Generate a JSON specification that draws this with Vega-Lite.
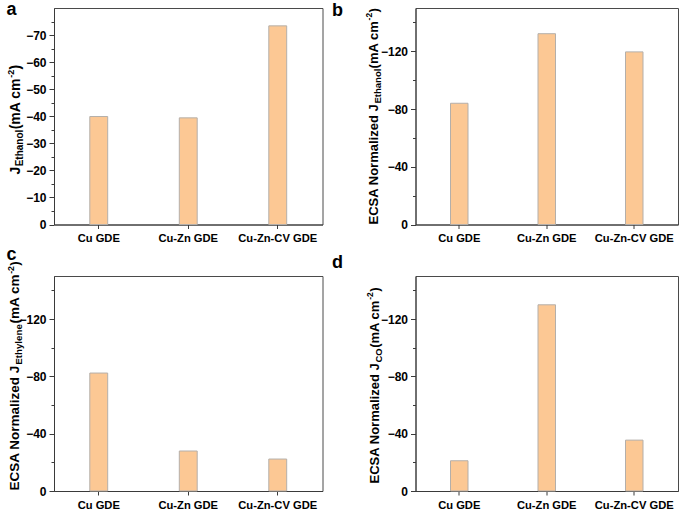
{
  "$schema": "https://vega.github.io/schema/vega-lite/v6.json",
  "background": "white",
  "padding": {"left": 5, "top": 0, "right": 0, "bottom": 0},
  "columns": 2,
  "bounds": "flush",
  "spacing": {"row": 51, "column": 92.5},
  "config": {
    "view": {"stroke": "#4a4a4a", "strokeWidth": 1},
    "axis": {
      "labelFont": "Liberation Sans", "labelFontWeight": "bold", "labelColor": "#000",
      "titleFont": "Liberation Sans", "titleFontWeight": "bold", "titleColor": "#000",
      "grid": false, "domainColor": "#3a3a3a", "tickColor": "#3a3a3a", "domainWidth": 1, "tickWidth": 1
    },
    "bar": {"fill": "#FCC894", "stroke": "#B4AFAA", "strokeWidth": 1}
  },
  "concat": [
    {
      "width": 268.5, "height": 216.5,
      "data": {"values": [
        {"sample": "Cu GDE", "j": -39.9},
        {"sample": "Cu-Zn GDE", "j": -39.4},
        {"sample": "Cu-Zn-CV GDE", "j": -73.4}
      ]},
      "resolve": {"axis": {"y": "independent", "x": "independent"}},
      "layer": [
        {"mark": {"type": "bar"},
         "encoding": {
           "x": {"field": "sample", "type": "nominal", "sort": null, "scale": {"paddingInner": 0.8, "paddingOuter": 0.4},
                 "axis": {"orient": "bottom", "title": null, "labelAngle": 0, "labelFontSize": 11.2, "tickSize": 4, "labelPadding": 4}},
           "y": {"field": "j", "type": "quantitative", "scale": {"domain": [0, -80], "nice": false},
                 "axis": {"orient": "left", "values": [0, -5, -10, -15, -20, -25, -30, -35, -40, -45, -50, -55, -60, -65, -70, -75],
                          "labelExpr": "datum.value % 10 === 0 ? datum.label : ''",
                          "tickSize": {"condition": {"test": "datum.value % 10 === 0", "value": 5}, "value": 3},
                          "labelFontSize": 12, "labelPadding": 3,
                          "title": "J", "titleFontSize": 14, "titleX": -34.5, "titleY": 166, "titleAngle": 270, "titleAlign": "left", "titleBaseline": "alphabetic"}}
         }},
        {"mark": {"type": "bar", "opacity": 0}, "encoding": {
          "x": {"field": "sample", "type": "nominal", "sort": null, "scale": {"paddingInner": 0.8, "paddingOuter": 0.4}, "axis": null},
          "y": {"field": "j", "type": "quantitative", "scale": {"domain": [0, -80], "nice": false},
          "axis": {"orient": "left", "domain": false, "ticks": false, "labels": false, "title": "Ethanol", "titleFontSize": 10, "titleX": -31.5, "titleY": 157.8, "titleAngle": 270, "titleAlign": "left", "titleBaseline": "alphabetic"}}}},
        {"mark": {"type": "bar", "opacity": 0}, "encoding": {
          "x": {"field": "sample", "type": "nominal", "sort": null, "scale": {"paddingInner": 0.8, "paddingOuter": 0.4}, "axis": null},
          "y": {"field": "j", "type": "quantitative", "scale": {"domain": [0, -80], "nice": false},
          "axis": {"orient": "left", "domain": false, "ticks": false, "labels": false, "title": "(mA cm", "titleFontSize": 14, "titleX": -34.5, "titleY": 120.8, "titleAngle": 270, "titleAlign": "left", "titleBaseline": "alphabetic"}}}},
        {"mark": {"type": "bar", "opacity": 0}, "encoding": {
          "x": {"field": "sample", "type": "nominal", "sort": null, "scale": {"paddingInner": 0.8, "paddingOuter": 0.4}, "axis": null},
          "y": {"field": "j", "type": "quantitative", "scale": {"domain": [0, -80], "nice": false},
          "axis": {"orient": "left", "domain": false, "ticks": false, "labels": false, "title": "-2", "titleFontSize": 9, "titleX": -40.5, "titleY": 69.2, "titleAngle": 270, "titleAlign": "left", "titleBaseline": "alphabetic"}}}},
        {"mark": {"type": "bar", "opacity": 0}, "encoding": {
          "x": {"field": "sample", "type": "nominal", "sort": null, "scale": {"paddingInner": 0.8, "paddingOuter": 0.4}, "axis": null},
          "y": {"field": "j", "type": "quantitative", "scale": {"domain": [0, -80], "nice": false},
          "axis": {"orient": "left", "domain": false, "ticks": false, "labels": false, "title": ")", "titleFontSize": 14, "titleX": -34.5, "titleY": 61, "titleAngle": 270, "titleAlign": "left", "titleBaseline": "alphabetic"}}}},
        {"mark": {"type": "bar", "opacity": 0}, "encoding": {
          "x": {"field": "sample", "type": "nominal", "sort": null, "scale": {"paddingInner": 0.8, "paddingOuter": 0.4}, "axis": null},
          "y": {"field": "j", "type": "quantitative", "scale": {"domain": [0, -80], "nice": false},
          "axis": {"orient": "left", "domain": false, "ticks": false, "labels": false, "title": "a", "titleFontSize": 18, "titleX": -48, "titleY": 6.5, "titleAngle": 0, "titleAlign": "left", "titleBaseline": "alphabetic"}}}}
      ]
    },
    {
      "width": 262.5, "height": 216.5,
      "data": {"values": [
        {"sample": "Cu GDE", "j": -84.0},
        {"sample": "Cu-Zn GDE", "j": -132.2},
        {"sample": "Cu-Zn-CV GDE", "j": -119.6}
      ]},
      "resolve": {"axis": {"y": "independent", "x": "independent"}},
      "layer": [
        {"mark": {"type": "bar"},
         "encoding": {
           "x": {"field": "sample", "type": "nominal", "sort": null, "scale": {"paddingInner": 0.8, "paddingOuter": 0.4},
                 "axis": {"orient": "bottom", "title": null, "labelAngle": 0, "labelFontSize": 11.2, "tickSize": 4, "labelPadding": 4}},
           "y": {"field": "j", "type": "quantitative", "scale": {"domain": [0, -150], "nice": false},
                 "axis": {"orient": "left", "values": [0, -20, -40, -60, -80, -100, -120, -140],
                          "labelExpr": "datum.value % 40 === 0 ? datum.label : ''",
                          "tickSize": {"condition": {"test": "datum.value % 40 === 0", "value": 5}, "value": 3},
                          "labelFontSize": 12, "labelPadding": 3,
                          "title": "ECSA Normalized J", "titleFontSize": 13, "titleX": -38.5, "titleY": 216, "titleAngle": 270, "titleAlign": "left", "titleBaseline": "alphabetic"}}
         }},
        {"mark": {"type": "bar", "opacity": 0}, "encoding": {
          "x": {"field": "sample", "type": "nominal", "sort": null, "scale": {"paddingInner": 0.8, "paddingOuter": 0.4}, "axis": null},
          "y": {"field": "j", "type": "quantitative", "scale": {"domain": [0, -150], "nice": false},
          "axis": {"orient": "left", "domain": false, "ticks": false, "labels": false, "title": "Ethanol", "titleFontSize": 9.5, "titleX": -35.5, "titleY": 95.0, "titleAngle": 270, "titleAlign": "left", "titleBaseline": "alphabetic"}}}},
        {"mark": {"type": "bar", "opacity": 0}, "encoding": {
          "x": {"field": "sample", "type": "nominal", "sort": null, "scale": {"paddingInner": 0.8, "paddingOuter": 0.4}, "axis": null},
          "y": {"field": "j", "type": "quantitative", "scale": {"domain": [0, -150], "nice": false},
          "axis": {"orient": "left", "domain": false, "ticks": false, "labels": false, "title": "(mA cm", "titleFontSize": 13, "titleX": -38.5, "titleY": 59.9, "titleAngle": 270, "titleAlign": "left", "titleBaseline": "alphabetic"}}}},
        {"mark": {"type": "bar", "opacity": 0}, "encoding": {
          "x": {"field": "sample", "type": "nominal", "sort": null, "scale": {"paddingInner": 0.8, "paddingOuter": 0.4}, "axis": null},
          "y": {"field": "j", "type": "quantitative", "scale": {"domain": [0, -150], "nice": false},
          "axis": {"orient": "left", "domain": false, "ticks": false, "labels": false, "title": "-2", "titleFontSize": 8.5, "titleX": -44.5, "titleY": 11.9, "titleAngle": 270, "titleAlign": "left", "titleBaseline": "alphabetic"}}}},
        {"mark": {"type": "bar", "opacity": 0}, "encoding": {
          "x": {"field": "sample", "type": "nominal", "sort": null, "scale": {"paddingInner": 0.8, "paddingOuter": 0.4}, "axis": null},
          "y": {"field": "j", "type": "quantitative", "scale": {"domain": [0, -150], "nice": false},
          "axis": {"orient": "left", "domain": false, "ticks": false, "labels": false, "title": ")", "titleFontSize": 13, "titleX": -38.5, "titleY": 4.1, "titleAngle": 270, "titleAlign": "left", "titleBaseline": "alphabetic"}}}},
        {"mark": {"type": "bar", "opacity": 0}, "encoding": {
          "x": {"field": "sample", "type": "nominal", "sort": null, "scale": {"paddingInner": 0.8, "paddingOuter": 0.4}, "axis": null},
          "y": {"field": "j", "type": "quantitative", "scale": {"domain": [0, -150], "nice": false},
          "axis": {"orient": "left", "domain": false, "ticks": false, "labels": false, "title": "b", "titleFontSize": 18, "titleX": -84, "titleY": 7.5, "titleAngle": 0, "titleAlign": "left", "titleBaseline": "alphabetic"}}}}
      ]
    },
    {
      "width": 268.5, "height": 215,
      "data": {"values": [
        {"sample": "Cu GDE", "j": -82.3},
        {"sample": "Cu-Zn GDE", "j": -27.9},
        {"sample": "Cu-Zn-CV GDE", "j": -22.3}
      ]},
      "resolve": {"axis": {"y": "independent", "x": "independent"}},
      "layer": [
        {"mark": {"type": "bar"},
         "encoding": {
           "x": {"field": "sample", "type": "nominal", "sort": null, "scale": {"paddingInner": 0.8, "paddingOuter": 0.4},
                 "axis": {"orient": "bottom", "title": null, "labelAngle": 0, "labelFontSize": 11.2, "tickSize": 4, "labelPadding": 4}},
           "y": {"field": "j", "type": "quantitative", "scale": {"domain": [0, -150], "nice": false},
                 "axis": {"orient": "left", "values": [0, -20, -40, -60, -80, -100, -120, -140],
                          "labelExpr": "datum.value % 40 === 0 ? datum.label : ''",
                          "tickSize": {"condition": {"test": "datum.value % 40 === 0", "value": 5}, "value": 3},
                          "labelFontSize": 12, "labelPadding": 3,
                          "title": "ECSA Normalized J", "titleFontSize": 13.5, "titleX": -35.5, "titleY": 214, "titleAngle": 270, "titleAlign": "left", "titleBaseline": "alphabetic"}}
         }},
        {"mark": {"type": "bar", "opacity": 0}, "encoding": {
          "x": {"field": "sample", "type": "nominal", "sort": null, "scale": {"paddingInner": 0.8, "paddingOuter": 0.4}, "axis": null},
          "y": {"field": "j", "type": "quantitative", "scale": {"domain": [0, -150], "nice": false},
          "axis": {"orient": "left", "domain": false, "ticks": false, "labels": false, "title": "Ethylene", "titleFontSize": 9.75, "titleX": -32.5, "titleY": 88.3, "titleAngle": 270, "titleAlign": "left", "titleBaseline": "alphabetic"}}}},
        {"mark": {"type": "bar", "opacity": 0}, "encoding": {
          "x": {"field": "sample", "type": "nominal", "sort": null, "scale": {"paddingInner": 0.8, "paddingOuter": 0.4}, "axis": null},
          "y": {"field": "j", "type": "quantitative", "scale": {"domain": [0, -150], "nice": false},
          "axis": {"orient": "left", "domain": false, "ticks": false, "labels": false, "title": "(mA cm", "titleFontSize": 13.5, "titleX": -35.5, "titleY": 47.1, "titleAngle": 270, "titleAlign": "left", "titleBaseline": "alphabetic"}}}},
        {"mark": {"type": "bar", "opacity": 0}, "encoding": {
          "x": {"field": "sample", "type": "nominal", "sort": null, "scale": {"paddingInner": 0.8, "paddingOuter": 0.4}, "axis": null},
          "y": {"field": "j", "type": "quantitative", "scale": {"domain": [0, -150], "nice": false},
          "axis": {"orient": "left", "domain": false, "ticks": false, "labels": false, "title": "-2", "titleFontSize": 8.75, "titleX": -41, "titleY": -2.7, "titleAngle": 270, "titleAlign": "left", "titleBaseline": "alphabetic"}}}},
        {"mark": {"type": "bar", "opacity": 0}, "encoding": {
          "x": {"field": "sample", "type": "nominal", "sort": null, "scale": {"paddingInner": 0.8, "paddingOuter": 0.4}, "axis": null},
          "y": {"field": "j", "type": "quantitative", "scale": {"domain": [0, -150], "nice": false},
          "axis": {"orient": "left", "domain": false, "ticks": false, "labels": false, "title": ")", "titleFontSize": 13.5, "titleX": -35.5, "titleY": -10.7, "titleAngle": 270, "titleAlign": "left", "titleBaseline": "alphabetic"}}}},
        {"mark": {"type": "bar", "opacity": 0}, "encoding": {
          "x": {"field": "sample", "type": "nominal", "sort": null, "scale": {"paddingInner": 0.8, "paddingOuter": 0.4}, "axis": null},
          "y": {"field": "j", "type": "quantitative", "scale": {"domain": [0, -150], "nice": false},
          "axis": {"orient": "left", "domain": false, "ticks": false, "labels": false, "title": "c", "titleFontSize": 18, "titleX": -48, "titleY": -17, "titleAngle": 0, "titleAlign": "left", "titleBaseline": "alphabetic"}}}}
      ]
    },
    {
      "width": 262.5, "height": 215,
      "data": {"values": [
        {"sample": "Cu GDE", "j": -21.1},
        {"sample": "Cu-Zn GDE", "j": -129.9},
        {"sample": "Cu-Zn-CV GDE", "j": -35.5}
      ]},
      "resolve": {"axis": {"y": "independent", "x": "independent"}},
      "layer": [
        {"mark": {"type": "bar"},
         "encoding": {
           "x": {"field": "sample", "type": "nominal", "sort": null, "scale": {"paddingInner": 0.8, "paddingOuter": 0.4},
                 "axis": {"orient": "bottom", "title": null, "labelAngle": 0, "labelFontSize": 11.2, "tickSize": 4, "labelPadding": 4}},
           "y": {"field": "j", "type": "quantitative", "scale": {"domain": [0, -150], "nice": false},
                 "axis": {"orient": "left", "values": [0, -20, -40, -60, -80, -100, -120, -140],
                          "labelExpr": "datum.value % 40 === 0 ? datum.label : ''",
                          "tickSize": {"condition": {"test": "datum.value % 40 === 0", "value": 5}, "value": 3},
                          "labelFontSize": 12, "labelPadding": 3,
                          "title": "ECSA Normalized J", "titleFontSize": 13, "titleX": -37.5, "titleY": 207, "titleAngle": 270, "titleAlign": "left", "titleBaseline": "alphabetic"}}
         }},
        {"mark": {"type": "bar", "opacity": 0}, "encoding": {
          "x": {"field": "sample", "type": "nominal", "sort": null, "scale": {"paddingInner": 0.8, "paddingOuter": 0.4}, "axis": null},
          "y": {"field": "j", "type": "quantitative", "scale": {"domain": [0, -150], "nice": false},
          "axis": {"orient": "left", "domain": false, "ticks": false, "labels": false, "title": "CO", "titleFontSize": 9.5, "titleX": -34.5, "titleY": 86.0, "titleAngle": 270, "titleAlign": "left", "titleBaseline": "alphabetic"}}}},
        {"mark": {"type": "bar", "opacity": 0}, "encoding": {
          "x": {"field": "sample", "type": "nominal", "sort": null, "scale": {"paddingInner": 0.8, "paddingOuter": 0.4}, "axis": null},
          "y": {"field": "j", "type": "quantitative", "scale": {"domain": [0, -150], "nice": false},
          "axis": {"orient": "left", "domain": false, "ticks": false, "labels": false, "title": "(mA cm", "titleFontSize": 13, "titleX": -37.5, "titleY": 71.3, "titleAngle": 270, "titleAlign": "left", "titleBaseline": "alphabetic"}}}},
        {"mark": {"type": "bar", "opacity": 0}, "encoding": {
          "x": {"field": "sample", "type": "nominal", "sort": null, "scale": {"paddingInner": 0.8, "paddingOuter": 0.4}, "axis": null},
          "y": {"field": "j", "type": "quantitative", "scale": {"domain": [0, -150], "nice": false},
          "axis": {"orient": "left", "domain": false, "ticks": false, "labels": false, "title": "-2", "titleFontSize": 8.5, "titleX": -43.5, "titleY": 23.3, "titleAngle": 270, "titleAlign": "left", "titleBaseline": "alphabetic"}}}},
        {"mark": {"type": "bar", "opacity": 0}, "encoding": {
          "x": {"field": "sample", "type": "nominal", "sort": null, "scale": {"paddingInner": 0.8, "paddingOuter": 0.4}, "axis": null},
          "y": {"field": "j", "type": "quantitative", "scale": {"domain": [0, -150], "nice": false},
          "axis": {"orient": "left", "domain": false, "ticks": false, "labels": false, "title": ")", "titleFontSize": 13, "titleX": -37.5, "titleY": 15.3, "titleAngle": 270, "titleAlign": "left", "titleBaseline": "alphabetic"}}}},
        {"mark": {"type": "bar", "opacity": 0}, "encoding": {
          "x": {"field": "sample", "type": "nominal", "sort": null, "scale": {"paddingInner": 0.8, "paddingOuter": 0.4}, "axis": null},
          "y": {"field": "j", "type": "quantitative", "scale": {"domain": [0, -150], "nice": false},
          "axis": {"orient": "left", "domain": false, "ticks": false, "labels": false, "title": "d", "titleFontSize": 18, "titleX": -84, "titleY": -8.3, "titleAngle": 0, "titleAlign": "left", "titleBaseline": "alphabetic"}}}}
      ]
    }
  ]
}
